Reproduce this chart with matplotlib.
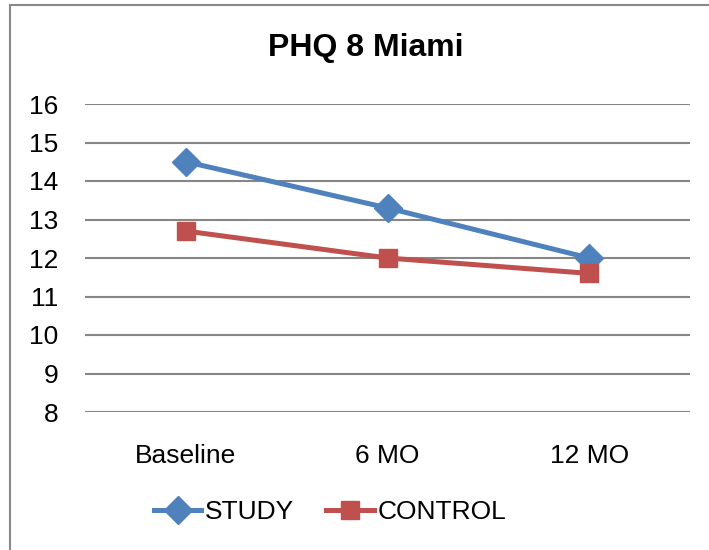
import matplotlib
matplotlib.use("Agg")
import matplotlib.pyplot as plt
from matplotlib.patches import Rectangle

# data
categories = ["Baseline", "6 MO", "12 MO"]
study = [14.5, 13.3, 12.0]
control = [12.7, 12.0, 11.6]
y_ticks = [8, 9, 10, 11, 12, 13, 14, 15, 16]

plt.rcParams['font.family'] = ['Liberation Sans Narrow', 'Liberation Sans', 'DejaVu Sans']

fig = plt.figure(figsize=(7.09, 5.5), dpi=100)
ax = fig.add_axes([85/709, 1 - 412/550, 605/709, 308/550])

x = list(range(len(categories)))
ax.plot(x, study, color="#4F81BD", lw=3.6, marker="D", ms=14, label="STUDY", zorder=3)
ax.plot(x, control, color="#C0504D", lw=3.6, marker="s", ms=13, label="CONTROL", zorder=3)

ax.set_xlim(-0.5, len(categories) - 0.5)
ax.set_ylim(8, 16)
ax.set_yticks(y_ticks)
ax.set_xticks(x)
ax.set_xticklabels(categories)
ax.tick_params(axis="both", length=0, labelsize=19)
ax.tick_params(axis="y", pad=19)
ax.tick_params(axis="x", pad=23)
ax.grid(axis="y", color="#868686", lw=1.5)
ax.set_axisbelow(True)
for s in ax.spines.values():
    s.set_visible(False)

fig.text(366/709, 1 - 48/550, "PHQ 8 Miami", ha="center", va="center",
         fontsize=23, fontweight="bold")

fig.legend(loc="center", bbox_to_anchor=(330/709, 1 - 512/550), ncol=2,
           frameon=False, fontsize=19, handlelength=1.8, handletextpad=0.15,
           columnspacing=1.2)

# outer chart border
fig.patches.append(Rectangle((10/709, -0.1), 1.2, 1.1 - 5/550, transform=fig.transFigure,
                             fill=False, edgecolor="#888888", lw=1.5))

fig.savefig("out.png", dpi=100)
